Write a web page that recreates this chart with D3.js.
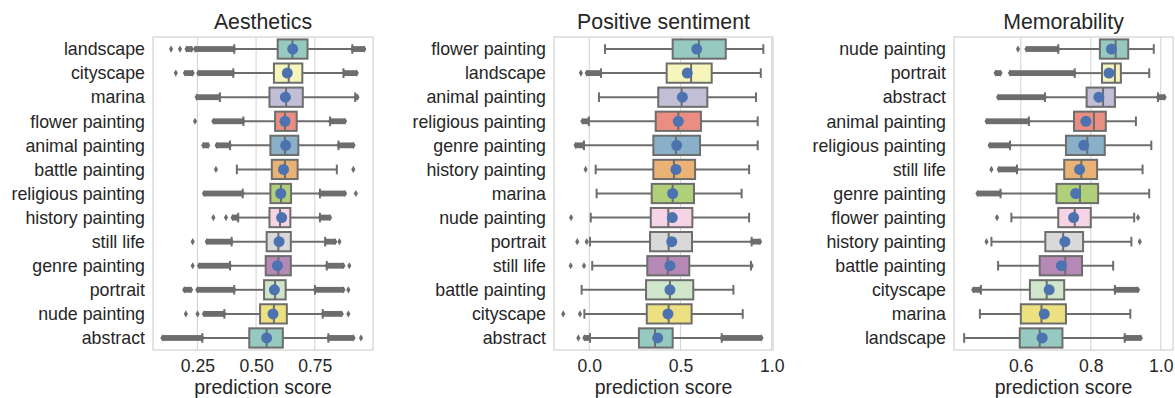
<!DOCTYPE html>
<html>
<head>
<meta charset="utf-8">
<script src="https://cdn.jsdelivr.net/npm/d3@7"></script>
<style>
  html, body { margin: 0; padding: 0; background: #fff; }
  svg { display: block; font-family: "Liberation Sans", Arial, sans-serif; }
</style>
</head>
<body>
<svg id="chart" width="1175" height="398"></svg>
<script>
// ---------------- DATA ----------------
// Panel 1: Aesthetics
const aesCategories = ["landscape","cityscape","marina","flower painting","animal painting","battle painting","religious painting","history painting","still life","genre painting","portrait","nude painting","abstract"];
const aesQ1     = [0.592,0.576,0.557,0.581,0.561,0.567,0.561,0.557,0.545,0.541,0.534,0.517,0.471];
const aesMedian = [0.655,0.639,0.628,0.623,0.623,0.623,0.606,0.602,0.595,0.595,0.581,0.576,0.545];
const aesQ3     = [0.719,0.697,0.699,0.673,0.680,0.677,0.649,0.646,0.648,0.648,0.626,0.631,0.614];
const aesWhiskLo= [0.407,0.403,0.346,0.446,0.389,0.418,0.443,0.424,0.396,0.389,0.407,0.365,0.271];
const aesWhiskHi= [0.910,0.872,0.922,0.815,0.851,0.844,0.772,0.772,0.794,0.801,0.751,0.784,0.808];
const aesMean   = [0.656,0.633,0.625,0.623,0.626,0.617,0.605,0.609,0.598,0.591,0.578,0.572,0.545];
// single numbers = isolated outliers, pairs = dense runs of outliers
const aesFliers = [
  [0.138,0.176,[0.204,0.226],[0.240,0.407],[0.910,0.961]],
  [0.158,[0.197,0.230],[0.254,0.403],[0.875,0.929]],
  [[0.247,0.339],[0.925,0.932]],
  [0.240,[0.318,0.446],[0.815,0.879]],
  [[0.275,0.296],[0.332,0.389],[0.851,0.915]],
  [0.329,0.914],
  [[0.278,0.443],[0.772,0.879],0.925],
  [0.318,0.372,[0.400,0.418],[0.772,0.815]],
  [0.230,[0.290,0.396],[0.797,0.837],0.855],
  [0.230,[0.257,0.389],[0.801,0.872],0.897],
  [[0.194,0.223],[0.250,0.407],[0.751,0.872],0.893],
  [0.201,0.251,[0.278,0.365],[0.784,0.865],0.893],
  [[0.101,0.271],[0.808,0.915],0.947]
];
const aesTicks = [0.25,0.50,0.75];
const aesTickLabels = ["0.25","0.50","0.75"];

// Panel 2: Positive sentiment
const posCategories = ["flower painting","landscape","animal painting","religious painting","genre painting","history painting","marina","nude painting","portrait","still life","battle painting","cityscape","abstract"];
const posQ1     = [0.457,0.424,0.378,0.364,0.351,0.351,0.342,0.337,0.333,0.318,0.311,0.315,0.272];
const posMedian = [0.601,0.558,0.506,0.488,0.475,0.464,0.457,0.433,0.435,0.430,0.442,0.435,0.360];
const posQ3     = [0.748,0.671,0.647,0.612,0.607,0.580,0.574,0.565,0.563,0.548,0.570,0.561,0.457];
const posWhiskLo= [0.086,0.064,0.053,-0.002,-0.029,0.035,0.040,0.008,0.004,0.016,-0.042,-0.027,0.004];
const posWhiskHi= [0.954,0.940,0.914,0.923,0.923,0.876,0.835,0.876,0.890,0.886,0.790,0.841,0.726];
const posMean   = [0.589,0.537,0.510,0.488,0.479,0.475,0.457,0.455,0.452,0.442,0.442,0.431,0.375];
const posFliers = [
  [],
  [-0.046,[-0.014,0.064]],
  [],
  [[-0.038,-0.009]],
  [[-0.075,-0.038]],
  [-0.020],
  [],
  [-0.100],
  [-0.066,-0.014,[0.890,0.936]],
  [-0.102,-0.029,0.890],
  [],
  [-0.143,-0.051],
  [-0.060,[-0.027,0.000],[0.726,0.944]]
];
const posTicks = [0.0,0.5,1.0];
const posTickLabels = ["0.0","0.5","1.0"];

// Panel 3: Memorability
const memCategories = ["nude painting","portrait","abstract","animal painting","religious painting","still life","genre painting","flower painting","history painting","battle painting","cityscape","marina","landscape"];
const memQ1     = [0.826,0.832,0.788,0.752,0.729,0.724,0.702,0.707,0.670,0.654,0.626,0.600,0.597];
const memMedian = [0.871,0.869,0.835,0.809,0.790,0.773,0.769,0.754,0.721,0.727,0.674,0.659,0.654];
const memQ3     = [0.907,0.886,0.869,0.843,0.840,0.818,0.821,0.800,0.778,0.775,0.724,0.729,0.719];
const memWhiskLo= [0.707,0.754,0.669,0.623,0.569,0.589,0.542,0.573,0.516,0.535,0.486,0.483,0.438];
const memWhiskHi= [0.980,0.967,0.992,0.929,0.973,0.948,0.967,0.924,0.916,0.864,0.869,0.913,0.897];
const memMean   = [0.859,0.852,0.823,0.786,0.780,0.768,0.757,0.751,0.726,0.716,0.681,0.667,0.661];
const memFliers = [
  [0.592,[0.616,0.707]],
  [[0.528,0.542],[0.569,0.754]],
  [[0.535,0.669],[0.992,1.011]],
  [[0.502,0.623]],
  [[0.511,0.569]],
  [0.516,[0.537,0.589]],
  [[0.476,0.542]],
  [0.532,0.935],
  [0.502,0.940],
  [],
  [[0.464,0.483],[0.869,0.935]],
  [],
  [[0.897,0.943]]
];
const memTicks = [0.6,0.8,1.0];
const memTickLabels = ["0.6","0.8","1.0"];

const palette = ["#8dd3c7","#ffffb3","#bebada","#fb8072","#80b1d3","#fdb462","#b3de69","#fccde5","#d9d9d9","#bc80bd","#ccebc5","#ffed6f"];

// ---------------- DRAW ----------------
const svg = d3.select("#chart");
const plotTop = 37, plotBottom = 350;
const gray = "#6d6d6d";
const textColor = "#262626";
const gridColor = "#d5d5d5";

function desat(c) {
  const h = d3.hsl(c);
  h.s *= 0.75;
  return h.formatHex();
}

const panels = [
  {title:"Aesthetics", x0:153, x1:373, domain:[0.061,0.998], cats:aesCategories, q1:aesQ1, med:aesMedian, q3:aesQ3, wlo:aesWhiskLo, whi:aesWhiskHi, mean:aesMean, fliers:aesFliers, ticks:aesTicks, tickLabels:aesTickLabels},
  {title:"Positive sentiment", x0:554, x1:773, domain:[-0.1935,1.007], cats:posCategories, q1:posQ1, med:posMedian, q3:posQ3, wlo:posWhiskLo, whi:posWhiskHi, mean:posMean, fliers:posFliers, ticks:posTicks, tickLabels:posTickLabels},
  {title:"Memorability", x0:954, x1:1173, domain:[0.409,1.035], cats:memCategories, q1:memQ1, med:memMedian, q3:memQ3, wlo:memWhiskLo, whi:memWhiskHi, mean:memMean, fliers:memFliers, ticks:memTicks, tickLabels:memTickLabels}
];

function diamondPath(cx, cy) {
  const w = 2.1, h = 3.6;
  return `M${cx},${cy-h}L${cx+w},${cy}L${cx},${cy+h}L${cx-w},${cy}Z`;
}

panels.forEach(p => {
  const x = d3.scaleLinear().domain(p.domain).range([p.x0, p.x1]);
  const y = d3.scaleBand().domain(p.cats).range([plotTop, plotBottom]).paddingInner(0).paddingOuter(0);
  const bw = y.bandwidth() * 0.8;
  const g = svg.append("g");

  // grid lines
  g.append("g").selectAll("line").data(p.ticks).join("line")
    .attr("x1", d => x(d)).attr("x2", d => x(d))
    .attr("y1", plotTop).attr("y2", plotBottom)
    .attr("stroke", gridColor).attr("stroke-width", 1.1);

  // frame
  g.append("rect").attr("x", p.x0).attr("y", plotTop)
    .attr("width", p.x1 - p.x0).attr("height", plotBottom - plotTop)
    .attr("fill", "none").attr("stroke", gridColor).attr("stroke-width", 1.3);

  // x axis
  const xAxis = d3.axisBottom(x).tickValues(p.ticks)
    .tickFormat((d, i) => p.tickLabels[i]).tickSize(0).tickPadding(0);
  const ax = g.append("g").attr("transform", `translate(0,${plotBottom})`).call(xAxis);
  ax.select(".domain").remove();
  ax.selectAll("text").attr("font-size", "17.6px").attr("fill", textColor)
    .attr("dy", null).attr("y", 22)
    .style("font-family", '"Liberation Sans", Arial, sans-serif');

  // y axis
  const yAxis = d3.axisLeft(y).tickSize(0).tickPadding(8);
  const ay = g.append("g").attr("transform", `translate(${p.x0},0)`).call(yAxis);
  ay.select(".domain").remove();
  ay.selectAll("text").attr("font-size", "17.8px").attr("fill", textColor)
    .attr("dy", "0.35em")
    .style("font-family", '"Liberation Sans", Arial, sans-serif');

  // titles
  g.append("text").attr("x", (p.x0 + p.x1) / 2).attr("y", 29)
    .attr("text-anchor", "middle").attr("font-size", "21.3px").attr("fill", textColor)
    .text(p.title);
  g.append("text").attr("x", (p.x0 + p.x1) / 2).attr("y", 394)
    .attr("text-anchor", "middle").attr("font-size", "19.5px").attr("fill", textColor)
    .text("prediction score");

  // boxes
  p.cats.forEach((c, i) => {
    const cy = y(c) + y.bandwidth() / 2;
    const bg = g.append("g");
    // fliers
    p.fliers[i].forEach(f => {
      if (Array.isArray(f)) {
        bg.append("rect").attr("x", x(f[0])).attr("y", cy - 2.9)
          .attr("width", Math.max(0.5, x(f[1]) - x(f[0]))).attr("height", 5.8)
          .attr("fill", gray);
        bg.append("path").attr("d", diamondPath(x(f[0]), cy)).attr("fill", gray);
        bg.append("path").attr("d", diamondPath(x(f[1]), cy)).attr("fill", gray);
      } else {
        bg.append("path").attr("d", diamondPath(x(f), cy)).attr("fill", gray);
      }
    });
    // whiskers
    bg.append("line").attr("x1", x(p.wlo[i])).attr("x2", x(p.q1[i]))
      .attr("y1", cy).attr("y2", cy).attr("stroke", gray).attr("stroke-width", 2);
    bg.append("line").attr("x1", x(p.q3[i])).attr("x2", x(p.whi[i]))
      .attr("y1", cy).attr("y2", cy).attr("stroke", gray).attr("stroke-width", 2);
    // caps
    [p.wlo[i], p.whi[i]].forEach(v => {
      bg.append("line").attr("x1", x(v)).attr("x2", x(v))
        .attr("y1", cy - bw / 4).attr("y2", cy + bw / 4)
        .attr("stroke", gray).attr("stroke-width", 2);
    });
    // box
    bg.append("rect").attr("x", x(p.q1[i])).attr("y", cy - bw / 2)
      .attr("width", x(p.q3[i]) - x(p.q1[i])).attr("height", bw)
      .attr("fill", desat(palette[i % palette.length]))
      .attr("stroke", gray).attr("stroke-width", 2);
    // median
    bg.append("line").attr("x1", x(p.med[i])).attr("x2", x(p.med[i]))
      .attr("y1", cy - bw / 2).attr("y2", cy + bw / 2)
      .attr("stroke", gray).attr("stroke-width", 2);
    // mean
    bg.append("circle").attr("cx", x(p.mean[i])).attr("cy", cy).attr("r", 5.5)
      .attr("fill", "#4c72b0");
  });
});
</script>
</body>
</html>
